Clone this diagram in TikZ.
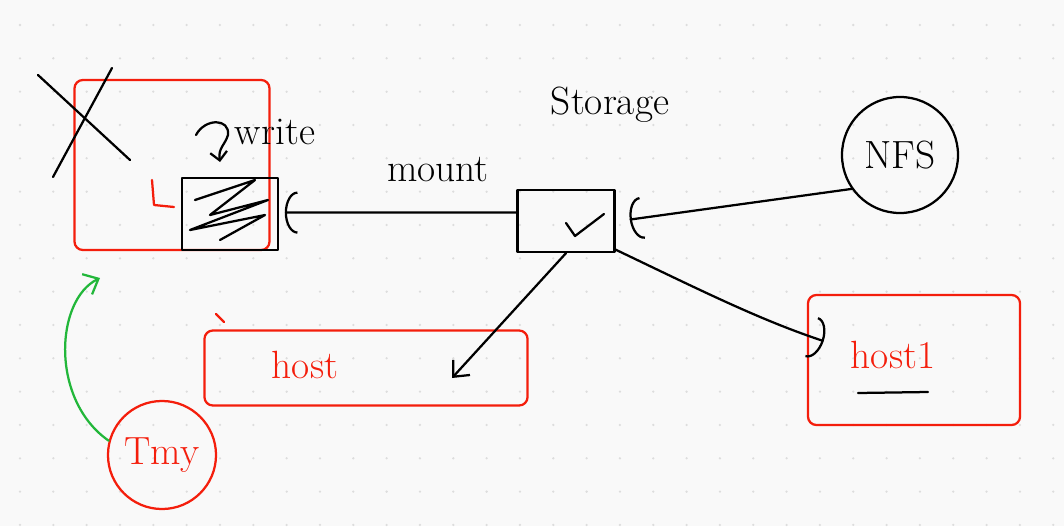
\documentclass[tikz,border=0pt]{standalone}
\usepackage{tikz}
\usetikzlibrary{arrows.meta, positioning}
\definecolor{penred}{HTML}{F41E0C}
\definecolor{pengreen}{HTML}{22B73A}
\definecolor{paper}{HTML}{F9F9F9}
\definecolor{dotgray}{HTML}{DDDDDD}

\begin{document}
\begin{tikzpicture}[
            x = 0.025cm, y = -0.025cm, % one unit = one pixel of the sketch
            line width = 1.6pt, % pen stroke
            line cap = round,
            line join = round,
            font = \fontsize{28}{32}\selectfont
        ]

        \tikzstyle{redbox}=[
            draw = penred,
            rounded corners = 6pt,
            inner sep = 0pt
        ]
        \tikzstyle{blackbox}=[
            draw = black,
            inner sep = 0pt
        ]
        \tikzstyle{ring}=[
            draw,
            circle,
            inner sep = 0pt
        ]
        \tikzstyle{wire}=[
            draw = black
        ]
        \tikzstyle{socket}=[
            -{Arc Barb[length=9pt, width=30pt, line width=1.6pt]}
        ]
        \tikzstyle{barb}=[
            -{Straight Barb[length=9pt, width=16pt]}
        ]

        % paper with dot grid
        \fill[paper] (0,0) rectangle (1064,526);
        \useasboundingbox (0,0) rectangle (1064,526);
        \foreach \i in {0,...,31}
            \foreach \j in {0,...,15}
                \fill[dotgray] (20+\i*33.33, 25+\j*33.33) circle (0.9pt);

        % boxes
        \node[redbox, minimum width = 4.875cm, minimum height = 4.25cm] (vm) at (172,165) {};
        \node[blackbox, minimum width = 2.4cm, minimum height = 1.8cm] (disk) at (230,214) {};
        \node[blackbox, minimum width = 2.425cm, minimum height = 1.55cm] (storage) at (566,221) {};
        \node[ring, minimum size = 2.9cm] (nfs) at (900,155) {NFS};
        \node[redbox, minimum width = 8.075cm, minimum height = 1.875cm] (host) at (366,368) {};
        \node[redbox, minimum width = 5.3cm, minimum height = 3.25cm] (hostone) at (914,360) {};
        \node[ring, draw = penred, text = penred, minimum size = 2.7cm] (tmy) at (162,455) {Tmy};

        % labels
        \node (writelbl) at (275,132) {write};
        \node (mountlbl) at (438,170) {mount};
        \node (storagelbl) at (610,105) {Storage};
        \node[text = penred] (hostlbl) at (305,365) {host};
        \node[text = penred] (hostonelbl) at (893,355) {host1};

        % connectors
        \coordinate (hostin) at (452,378);
        \coordinate (vmin) at (100,278);
        \draw[wire, socket] ([yshift=6pt]storage.west) -- ([xshift=4pt, yshift=1pt]disk.east);
        \draw[wire, socket] (nfs.215) -- ([xshift=10pt, yshift=1pt]storage.east);
        \draw[wire, barb] (storage.south) -- (hostin);
        \draw[wire, socket] (storage.-30) .. controls (700,290) and (760,320) .. ([xshift=12pt]hostone.170);
        \draw[pengreen, barb] (tmy.165) .. controls (50,400) and (55,300) .. (vmin);
        \draw[-{Straight Barb[length=6pt, width=12pt]}] (196,135) .. controls (205,118) and (230,118) .. (228,135) .. controls (225,145) and (218,148) .. (220,162);

        % scribbles
        \draw (38,75) -- (130,160);
        \draw (53,177) -- (112,68);
        \draw (195,200) -- (255,180) -- (210,215) -- (268,200) -- (190,230) -- (265,215) -- (220,240);
        \draw (566,223) -- (575,236) -- (604,214);
        \draw[penred] (152,180) -- (154,205) -- (174,207);
        \draw[penred] (216,314) -- (224,322);
        \draw (858,393) -- (928,392);
\end{tikzpicture}
\end{document}
